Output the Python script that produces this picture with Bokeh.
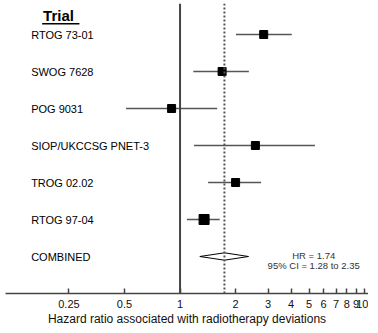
from bokeh.plotting import figure
from bokeh.models import Range1d, Span, FixedTicker, CustomJSTickFormatter, ColumnDataSource
from bokeh.core.properties import value
from bokeh.embed import file_html
from bokeh.resources import INLINE

# ---- data ----
trials = ["RTOG 73-01", "SWOG 7628", "POG 9031", "SIOP/UKCCSG PNET-3", "TROG 02.02", "RTOG 97-04"]
hr = [2.84, 1.69, 0.90, 2.56, 2.00, 1.35]
ci_low = [2.01, 1.18, 0.51, 1.19, 1.42, 1.09]
ci_high = [4.03, 2.36, 1.59, 5.38, 2.75, 1.64]
weights = [8, 8, 8, 8, 8, 10]
combined_label = "COMBINED"
combined_hr = 1.74
combined_low = 1.28
combined_high = 2.35
tick_values = [0.25, 0.5, 1, 2, 3, 4, 5, 6, 7, 8, 9, 10]

FONT = "Liberation Sans"
rows = list(range(len(trials)))
comb_row = len(trials)

p = figure(frame_width=363, frame_height=290, x_axis_type="log",
           x_range=Range1d(0.1133, 10.5), y_range=Range1d(7.0, -0.838),
           output_backend="svg", toolbar_location=None,
           min_border_left=5, min_border_right=0, min_border_top=3, min_border_bottom=0)
p.outline_line_color = None
p.xgrid.visible = False
p.ygrid.visible = False
p.yaxis.visible = False
p.background_fill_color = "white"

# reference lines
p.add_layout(Span(location=1, dimension="height", line_color="#444444", line_width=2))
p.add_layout(Span(location=combined_hr, dimension="height", line_color="#555555",
                  line_width=2, line_dash="2 2"))

# CIs and squares
src = ColumnDataSource(dict(y=rows, hr=hr, lo=ci_low, hi=ci_high, w=weights, name=trials))
p.segment(x0="lo", x1="hi", y0="y", y1="y", source=src, line_color="#555555", line_width=1.6)
p.scatter(x="hr", y="y", size="w", marker="square", source=src, color="black")

# combined diamond
h = 0.1
p.patches(xs=[[combined_low, combined_hr, combined_high, combined_hr]],
          ys=[[comb_row, comb_row - h, comb_row, comb_row + h]],
          fill_color="white", line_color="black", line_width=1)

# trial labels
label_x = 0.156
p.text(x=[label_x] * (len(trials) + 1), y=rows + [comb_row], text=trials + [combined_label],
       text_font=value(FONT), text_font_size="11px", text_color="black",
       text_baseline="middle", text_align="left")

# header
p.text(x=[0.181], y=[-0.51], text=["Trial"], text_font=value(FONT), text_font_size="15px",
       text_font_style="bold", text_color="black", text_baseline="middle", text_align="left")
p.segment(x0=[0.179], x1=[0.285], y0=[-0.29], y1=[-0.29], line_color="black", line_width=1.6)

# combined stats text
p.text(x=[5.30, 5.30], y=[comb_row - 0.03, comb_row + 0.24],
       text=[f"HR = {combined_hr:.2f}", f"95% CI = {combined_low:.2f} to {combined_high:.2f}"],
       text_font=value(FONT), text_font_size="9.5px", text_color="#333333",
       text_baseline="middle", text_align="center")

# axis
ax = p.xaxis[0]
ax.ticker = FixedTicker(ticks=tick_values, minor_ticks=[])
ax.formatter = CustomJSTickFormatter(code="return tick.toString();")
ax.axis_line_color = "#444444"
ax.axis_line_width = 1.5
ax.major_tick_line_color = "#444444"
ax.major_tick_line_width = 1.5
ax.major_tick_in = 5
ax.major_tick_out = 0
ax.minor_tick_line_color = None
ax.major_label_standoff = 6
ax.major_label_text_font = FONT
ax.major_label_text_font_size = "11px"
ax.major_label_text_color = "#111111"
ax.axis_label = "Hazard ratio associated with radiotherapy deviations"
ax.axis_label_text_font = FONT
ax.axis_label_text_font_size = "12px"
ax.axis_label_text_font_style = "normal"
ax.axis_label_text_color = "#111111"
ax.axis_label_standoff = 1

open("out.html", "w").write(file_html(p, INLINE))
